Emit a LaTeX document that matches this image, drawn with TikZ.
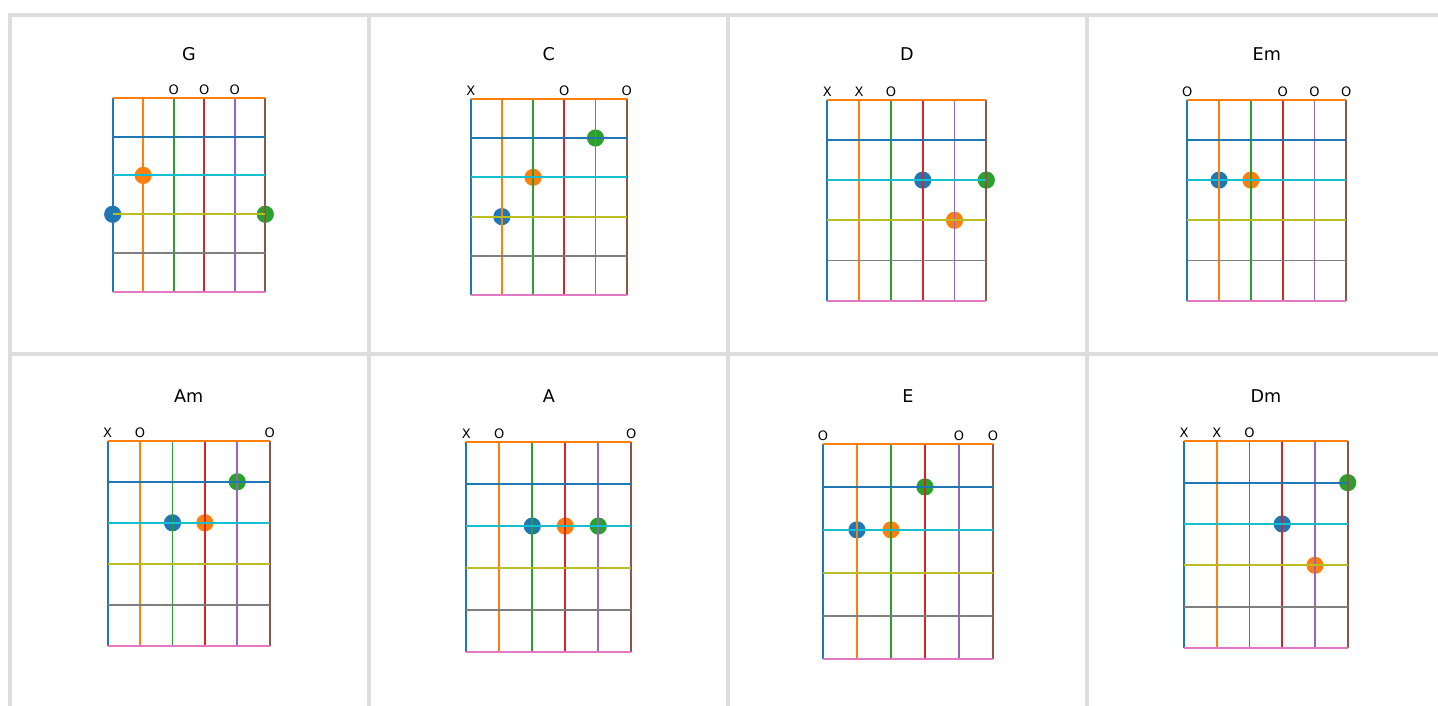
\documentclass[tikz,border=0pt]{standalone}
\usepackage{fontspec}
\setmainfont{DejaVu Sans}
\usepackage{tikz}
\usetikzlibrary{positioning}
\definecolor{tabblue}{HTML}{1F77B4}
\definecolor{taborange}{HTML}{FF7F0E}
\definecolor{tabgreen}{HTML}{2CA02C}
\definecolor{tabred}{HTML}{D62728}
\definecolor{tabpurple}{HTML}{9467BD}
\definecolor{tabbrown}{HTML}{8C564B}
\definecolor{tabpink}{HTML}{E377C2}
\definecolor{tabgray}{HTML}{7F7F7F}
\definecolor{tabolive}{HTML}{BCBD22}
\definecolor{tabcyan}{HTML}{17BECF}
\definecolor{cellline}{HTML}{DDDDDD}

% #1 left, #2 top, #3 right, #4 bottom, #5 title baseline, #6 chord, #7 marks, #8 fingers
\newcommand{\chordchart}[8]{%
  \pgfmathsetmacro{\dx}{(#3-#1)/5}
  \pgfmathsetmacro{\dy}{(#4-#2)/5}
  \node[chordtitle] (title-#6) at ({(#1+#3)/2},#5) {#6};
  \foreach \s/\mk in {#7}
    \node[openmark] (#6-mark-\s) at (#1+\s*\dx,#2-3.5) {\mk};
  \foreach \s/\f/\col in {#8}
    \fill[\col] (#1+\s*\dx,#2+\f*\dy) circle[radius=8.6pt];
  \foreach \s/\col in {0/tabblue,1/taborange,2/tabgreen,3/tabred,4/tabpurple,5/tabbrown}
    \draw[fretline=\col] (#1+\s*\dx,#2) -- (#1+\s*\dx,#4);
  \foreach \f/\col in {5/tabpink,4/tabgray,3/tabolive,2/tabcyan,1/tabblue,0/taborange}
    \draw[fretline=\col] (#1,#2+\f*\dy) -- (#3,#2+\f*\dy);
}

\begin{document}
\begin{tikzpicture}[
  x=1pt,y=-1pt,
  chordtitle/.style={anchor=base,inner sep=0pt,font=\fontsize{17.6}{20}\selectfont},
  openmark/.style={anchor=base,inner sep=0pt,font=\fontsize{13}{14}\selectfont},
  fretline/.style={draw=#1,line width=1.9pt},
  cell/.style={draw=cellline,line width=4pt}
]
\useasboundingbox (0,0) rectangle (1438,706);
% table cells
\draw[cell] (10,706) -- (10,14.7) -- (1438,14.7);
\draw[cell] (10,354.3) -- (1438,354.3);
\foreach \x in {369,728,1087}
  \draw[cell] (\x,14.7) -- (\x,706);

% top row
\chordchart{112.7}{97.7}{265.3}{292}{61}{G}{2/O,3/O,4/O}{0/3/tabblue,1/2/taborange,5/3/tabgreen}
\chordchart{470.7}{98.7}{626.7}{295.3}{61}{C}{0/X,3/O,5/O}{1/3/tabblue,2/2/taborange,4/1/tabgreen}
\chordchart{827.3}{99.7}{986.3}{300.7}{61}{D}{0/X,1/X,2/O}{3/2/tabblue,4/3/taborange,5/2/tabgreen}
\chordchart{1187.3}{99.7}{1346.3}{300.7}{61}{Em}{0/O,3/O,4/O,5/O}{1/2/tabblue,2/2/taborange}

% bottom row
\chordchart{107.7}{440.7}{269.7}{646}{402}{Am}{0/X,1/O,5/O}{2/2/tabblue,3/2/taborange,4/1/tabgreen}
\chordchart{466.3}{442.3}{631.3}{651.7}{402}{A}{0/X,1/O,5/O}{2/2/tabblue,3/2/taborange,4/2/tabgreen}
\chordchart{823}{444}{993}{658.7}{402}{E}{0/O,4/O,5/O}{1/2/tabblue,2/2/taborange,3/1/tabgreen}
\chordchart{1184}{441.3}{1347.7}{648}{402}{Dm}{0/X,1/X,2/O}{3/2/tabblue,4/3/taborange,5/1/tabgreen}
\end{tikzpicture}
\end{document}
